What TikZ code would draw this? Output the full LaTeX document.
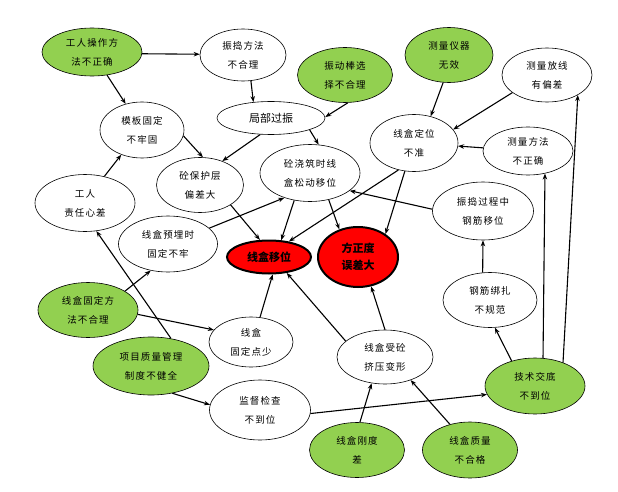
\documentclass[tikz,border=0pt]{standalone}
\usepackage{fontspec}
\usepackage{tikz}
\usetikzlibrary{arrows.meta,shapes.geometric}
\newfontfamily\cjk[LetterSpace=12]{Noto Sans CJK SC}
\newfontfamily\cjkb{Noto Sans CJK SC}
\definecolor{leaf}{RGB}{146,208,80}

\begin{document}
\begin{tikzpicture}[x=1pt,y=-1pt,
  box/.style={draw,ellipse,inner sep=0pt,align=center,line width=0.6pt,fill=white,font=\cjk\fontsize{9.5}{19}\selectfont},
  cause/.style={box,fill=leaf},
  hit/.style={draw,ellipse,inner sep=0pt,align=center,fill=red,line width=2pt,font=\cjkb\bfseries\fontsize{11}{17}\selectfont},
  sz/.style 2 args={minimum width=#1pt,minimum height=#2pt},
  arr/.style={-{Stealth[length=6pt,width=4.5pt]},line width=1.1pt}]
        \useasboundingbox (0,0) rectangle (618,492);
        \node[cause,sz={100}{48}] (gzff) at (92,52) {工人操作方\\法不正确};
        \node[box,sz={86}{52}] (zdff) at (243,55) {振捣方法\\不合理};
        \node[cause,sz={95}{55}] (zdb) at (345,75) {振动棒选\\择不合理};
        \node[cause,sz={88}{55}] (clyq) at (449,55) {测量仪器\\无效};
        \node[box,sz={90}{54}] (clfx) at (547,75) {测量放线\\有偏差};
        \node[box,sz={108}{33},font=\cjkb\fontsize{11}{13}\selectfont] (jbgz) at (271,118) {局部过振};
        \node[box,sz={84}{56}] (mbgd) at (142,130) {模板固定\\不牢固};
        \node[box,sz={88}{57}] (hdw) at (414,143) {线盒定位\\不准};
        \node[box,sz={90}{48}] (clff) at (528,151) {测量方法\\不正确};
        \node[box,sz={87}{55}] (bhc) at (200,185) {砼保护层\\偏差大};
        \node[box,sz={100}{57}] (jzsd) at (310,173) {砼浇筑时线\\盒松动移位};
        \node[box,sz={100}{57}] (zrx) at (85,203) {工人\\责任心差};
        \node[box,sz={101}{58}] (gjyw) at (483,211) {振捣过程中\\钢筋移位};
        \node[box,sz={99}{56}] (yms) at (168,244) {线盒预埋时\\固定不牢};
        \node[hit,sz={84}{33}] (xhyw) at (269,257) {线盒移位};
        \node[hit,sz={80}{60}] (fzd) at (358,257) {方正度\\误差大};
        \node[box,sz={94}{55}] (gjbz) at (490,300) {钢筋绑扎\\不规范};
        \node[cause,sz={100}{55}] (gdff) at (88,310) {线盒固定方\\法不合理};
        \node[box,sz={84}{50}] (gdds) at (251,342) {线盒\\固定点少};
        \node[cause,sz={116}{58}] (zlgl) at (151,366) {项目质量管理\\制度不健全};
        \node[box,sz={96}{54}] (jybx) at (385,357) {线盒受砼\\挤压变形};
        \node[cause,sz={100}{56}] (jsjd) at (535,386) {技术交底\\不到位};
        \node[box,sz={101}{60}] (jdjc) at (260,410) {监督检查\\不到位};
        \node[cause,sz={95}{55}] (gdc) at (357,450) {线盒刚度\\差};
        \node[cause,sz={95}{56}] (zlbhg) at (470,450) {线盒质量\\不合格};
        \foreach \a/\b in {gzff.-2/zdff.179, gzff.-57/mbgd.122, zdff.-73/jbgz.138, zdb.-84/jbgz.1,
            jbgz.-123/bhc.47, jbgz.-17/jzsd.73, mbgd.-8/bhc.84, zrx.54/mbgd.-130,
            clyq.-102/hdw.58, clfx.-153/hdw.19, clff.176/hdw.-4, hdw.-120/xhyw.38,
            jzsd.-120/xhyw.54, hdw.-108/fzd.40, jzsd.-55/fzd.124, gjyw.178/jzsd.-24,
            bhc.-33/xhyw.118, yms.21/jzsd.-136, gdff.27/yms.-123, gdff.-5/gdds.162,
            zlgl.54/zrx.-68, zlgl.-52/jdjc.174, gdds.70/xhyw.-78, jybx.158/xhyw.-42,
            jybx.90/fzd.-66, gdc.84/jybx.-117, zlbhg.128/jybx.-42, jdjc.-4/jsjd.-170,
            jsjd.133/gjbz.-80, gjbz.105/gjyw.-90, jsjd.74/clff.-53, jsjd.40/clfx.-33}
        \draw[arr] (\a) -- (\b);
\end{tikzpicture}
\end{document}
